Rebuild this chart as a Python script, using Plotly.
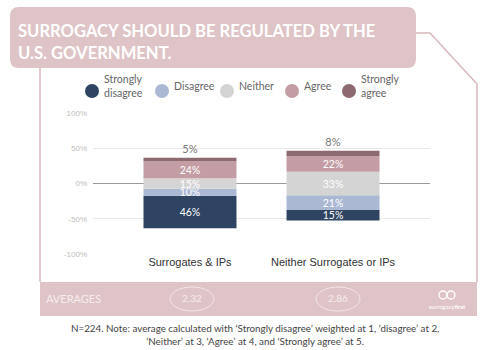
import plotly.graph_objects as go

# ---------------- data ----------------
categories = ["Surrogates & IPs", "Neither Surrogates or IPs"]
strongly_disagree = [46, 15]
disagree = [10, 21]
neither = [15, 33]
agree = [24, 22]
strongly_agree = [5, 8]
averages = ["2.32", "2.86"]
y_ticks = [-100, -50, 0, 50, 100]
y_tick_labels = ["-100%", "-50%", "0%", "50%", "100%"]
legend_labels = ["Strongly<br>disagree", "Disagree", "Neither", "Agree", "Strongly<br>agree"]
colors = ["#2e4462", "#aab8d3", "#d4d4d4", "#c39ca4", "#8c6a70"]
title_lines = ["SURROGACY SHOULD BE REGULATED BY THE", "U.S. GOVERNMENT."]
footnote = ("N=224. Note: average calculated with \u2018Strongly disagree\u2019 weighted at 1, \u2018disagree\u2019 at 2,<br>"
            "\u2018Neither\u2019 at 3, \u2018Agree\u2019 at 4, and \u2018Strongly agree\u2019 at 5.")

# ---------------- layout helpers (pixel -> paper) ----------------
W, H = 500, 350
L, R, T, B = 93, 430, 113, 254
def X(p): return (p - L) / (R - L)
def Y(p): return (B - p) / (B - T)

half = [n / 2 for n in neither]
base_neither = [-h for h in half]
base_dis = [-h - d for h, d in zip(half, disagree)]
base_sd = [-h - d - s for h, d, s in zip(half, disagree, strongly_disagree)]
base_agree = half
base_sa = [h + a for h, a in zip(half, agree)]

series = [
    (strongly_disagree, base_sd, colors[0]),
    (disagree, base_dis, colors[1]),
    (neither, base_neither, colors[2]),
    (agree, base_agree, colors[3]),
    (strongly_agree, base_sa, colors[4]),
]

fig = go.Figure()
for i, (vals, base, col) in enumerate(series):
    outside = i == 4
    fig.add_trace(go.Bar(
        x=categories, y=vals, base=base, width=0.65,
        marker=dict(color=col, line=dict(width=0)),
        text=[f"{v}%" for v in vals],
        textposition="outside" if outside else "inside",
        insidetextanchor="middle",
        constraintext="none",
        cliponaxis=False,
        textfont=dict(family="Lato", size=11 if outside else 10.5,
                      color="#777777" if outside else "#ffffff"),
        showlegend=False, hoverinfo="skip",
    ))

shapes = []
annotations = []
PINK = "#dfc4c7"
LINE = "#d9b8bc"

# title box (rounded)
x0, y0, x1, y1, r = 10, 7, 416, 68, 9
def pt(a, b): return f"{X(a)},{Y(b)}"
path = (f"M {pt(x0 + r, y0)} L {pt(x1 - r, y0)} Q {pt(x1, y0)} {pt(x1, y0 + r)} "
        f"L {pt(x1, y1 - r)} Q {pt(x1, y1)} {pt(x1 - r, y1)} L {pt(x0 + r, y1)} "
        f"Q {pt(x0, y1)} {pt(x0, y1 - r)} L {pt(x0, y0 + r)} Q {pt(x0, y0)} {pt(x0 + r, y0)} Z")
shapes.append(dict(type="path", path=path, xref="paper", yref="paper",
                   fillcolor=PINK, line=dict(width=0), layer="below"))

# frame lines
shapes.append(dict(type="path", xref="paper", yref="paper",
                   path=f"M {pt(416, 33)} L {pt(430, 33)} L {pt(477, 84)} L {pt(477, 282)}",
                   line=dict(color=LINE, width=1.5)))
shapes.append(dict(type="line", xref="paper", yref="paper",
                   x0=X(40), x1=X(40), y0=Y(68), y1=Y(282), line=dict(color=LINE, width=1.5)))

# averages band
shapes.append(dict(type="rect", xref="paper", yref="paper",
                   x0=X(40), x1=X(477), y0=Y(282), y1=Y(316),
                   fillcolor=PINK, line=dict(width=0), layer="below"))

for k, line in enumerate(title_lines):
    annotations.append(dict(text=f"<b>{line}</b>", x=X(16), y=Y(31 + 22 * k), xref="paper", yref="paper",
                            xanchor="left", yanchor="middle", showarrow=False,
                            font=dict(family="Lato", size=16.6, color="#ffffff")))

annotations.append(dict(text="AVERAGES", x=X(44), y=Y(298), xref="paper", yref="paper",
                        xanchor="left", yanchor="middle", showarrow=False,
                        font=dict(family="Lato", size=11, color="#f6ecee")))

avg_centers = [192, 338]
for cx, val in zip(avg_centers, averages):
    shapes.append(dict(type="circle", xref="paper", yref="paper",
                       x0=X(cx - 22), x1=X(cx + 22), y0=Y(311), y1=Y(287),
                       line=dict(color="#f3e6e8", width=1)))
    annotations.append(dict(text=val, x=X(cx), y=Y(298), xref="paper", yref="paper",
                            xanchor="center", yanchor="middle", showarrow=False,
                            font=dict(family="Lato", size=10, color="#f6ecee")))

# logo
for cx in [443, 451]:
    shapes.append(dict(type="circle", xref="paper", yref="paper",
                       x0=X(cx - 4), x1=X(cx + 4), y0=Y(299), y1=Y(291),
                       line=dict(color="#ffffff", width=1.3)))
annotations.append(dict(text="surrogacy<b>first</b>", x=X(447), y=Y(306), xref="paper", yref="paper",
                        xanchor="center", yanchor="middle", showarrow=False,
                        font=dict(family="Lato", size=6, color="#ffffff")))

# footnote
annotations.append(dict(text=footnote, x=X(255), y=Y(334), xref="paper", yref="paper",
                        xanchor="center", yanchor="middle", showarrow=False, align="center",
                        font=dict(family="Lato", size=9.8, color="#444444")))

# legend (manual)
leg_cx = [92, 162, 227, 292, 349]
for cx, lab, col in zip(leg_cx, legend_labels, colors):
    shapes.append(dict(type="circle", xref="paper", yref="paper",
                       x0=X(cx - 7), x1=X(cx + 7), y0=Y(98), y1=Y(84),
                       fillcolor=col, line=dict(width=0)))
    annotations.append(dict(text=lab, x=X(cx + 10), y=Y(86), xref="paper", yref="paper",
                            xanchor="left", yanchor="middle", showarrow=False, align="left",
                            font=dict(family="Lato", size=10.5, color="#666666")))

fig.update_layout(
    width=W, height=H,
    margin=dict(l=L, r=W - R, t=T, b=H - B, pad=0),
    barmode="overlay",
    paper_bgcolor="#ffffff", plot_bgcolor="#ffffff",
    shapes=shapes, annotations=annotations,
    showlegend=False,
    xaxis=dict(type="category", range=[-0.678, 1.678], showgrid=False, zeroline=False,
               showline=False, ticks="", fixedrange=True,
               tickfont=dict(family="Arial", size=11, color="#333333")),
    yaxis=dict(range=[-100, 100], tickvals=y_ticks, ticktext=y_tick_labels,
               showgrid=True, gridcolor="#e8e8e8", gridwidth=1,
               zeroline=True, zerolinecolor="#9a9a9a", zerolinewidth=1,
               showline=False, ticks="", ticklabelstandoff=5,
               tickfont=dict(family="Arial", size=8, color="#bdbdbd")),
)

fig.write_html("out.html")
